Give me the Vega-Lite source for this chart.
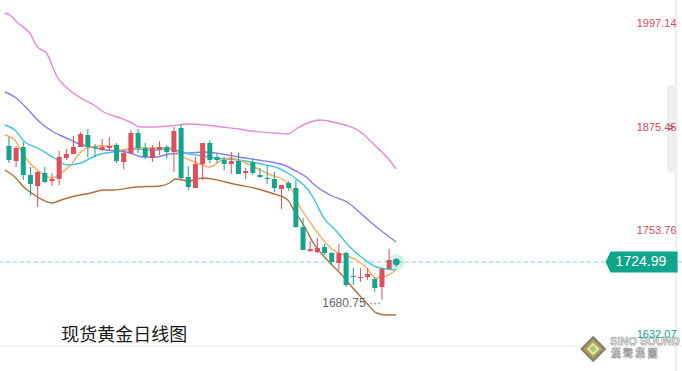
{
  "$schema": "https://vega.github.io/schema/vega-lite/v6.json",
  "width": 682,
  "height": 371,
  "autosize": "none",
  "padding": 0,
  "background": "#ffffff",
  "config": {"view": {"stroke": null}},
  "resolve": {"axis": {"x": "independent", "y": "independent"}},
  "datasets": {
    "candles": [
      {"i":0,"open":1861.33,"high":1871.92,"low":1841.34,"close":1844.87},
      {"i":1,"open":1843.70,"high":1861.33,"low":1836.64,"close":1858.98},
      {"i":2,"open":1860.16,"high":1866.04,"low":1821.36,"close":1827.23},
      {"i":3,"open":1827.23,"high":1836.64,"low":1802.54,"close":1816.65},
      {"i":4,"open":1814.30,"high":1831.94,"low":1789.61,"close":1830.76},
      {"i":5,"open":1829.59,"high":1836.64,"low":1817.83,"close":1819.00},
      {"i":6,"open":1820.18,"high":1829.59,"low":1814.30,"close":1822.53},
      {"i":7,"open":1822.53,"high":1855.45,"low":1815.48,"close":1848.40},
      {"i":8,"open":1847.22,"high":1857.81,"low":1844.87,"close":1851.93},
      {"i":9,"open":1851.93,"high":1873.09,"low":1851.93,"close":1860.16},
      {"i":10,"open":1860.16,"high":1877.79,"low":1860.16,"close":1875.44},
      {"i":11,"open":1874.27,"high":1881.32,"low":1848.40,"close":1860.16},
      {"i":12,"open":1860.16,"high":1863.68,"low":1848.40,"close":1858.98},
      {"i":13,"open":1856.63,"high":1869.56,"low":1855.45,"close":1860.16},
      {"i":14,"open":1858.98,"high":1871.92,"low":1855.45,"close":1861.33},
      {"i":15,"open":1862.51,"high":1864.86,"low":1841.34,"close":1843.70},
      {"i":16,"open":1842.52,"high":1856.63,"low":1834.29,"close":1853.10},
      {"i":17,"open":1853.10,"high":1880.15,"low":1851.93,"close":1876.62},
      {"i":18,"open":1876.62,"high":1881.32,"low":1853.10,"close":1858.98},
      {"i":19,"open":1858.98,"high":1864.86,"low":1846.05,"close":1848.40},
      {"i":20,"open":1847.22,"high":1862.51,"low":1842.52,"close":1858.98},
      {"i":21,"open":1856.63,"high":1867.21,"low":1850.75,"close":1860.16},
      {"i":22,"open":1860.16,"high":1862.51,"low":1847.22,"close":1854.28},
      {"i":23,"open":1854.28,"high":1883.67,"low":1830.76,"close":1878.97},
      {"i":24,"open":1882.50,"high":1887.20,"low":1822.53,"close":1823.71},
      {"i":25,"open":1824.88,"high":1837.82,"low":1809.60,"close":1813.13},
      {"i":26,"open":1811.95,"high":1848.40,"low":1811.95,"close":1840.17},
      {"i":27,"open":1840.17,"high":1864.86,"low":1821.36,"close":1864.86},
      {"i":28,"open":1864.86,"high":1868.39,"low":1841.34,"close":1844.87},
      {"i":29,"open":1848.40,"high":1853.10,"low":1841.34,"close":1844.87},
      {"i":30,"open":1844.87,"high":1848.40,"low":1833.11,"close":1840.17},
      {"i":31,"open":1840.17,"high":1854.28,"low":1828.41,"close":1843.70},
      {"i":32,"open":1843.70,"high":1853.10,"low":1828.41,"close":1828.41},
      {"i":33,"open":1829.59,"high":1835.47,"low":1822.53,"close":1831.94},
      {"i":34,"open":1842.52,"high":1847.22,"low":1827.23,"close":1829.59},
      {"i":35,"open":1827.23,"high":1835.47,"low":1823.71,"close":1824.88},
      {"i":36,"open":1823.71,"high":1838.99,"low":1816.65,"close":1822.53},
      {"i":37,"open":1822.53,"high":1830.76,"low":1807.25,"close":1811.95},
      {"i":38,"open":1810.77,"high":1815.48,"low":1787.26,"close":1815.48},
      {"i":39,"open":1817.83,"high":1820.18,"low":1808.42,"close":1811.95},
      {"i":40,"open":1811.95,"high":1821.36,"low":1764.92,"close":1766.09},
      {"i":41,"open":1766.09,"high":1776.68,"low":1739.05,"close":1739.05},
      {"i":42,"open":1737.87,"high":1749.63,"low":1736.70,"close":1740.23},
      {"i":43,"open":1736.70,"high":1753.16,"low":1735.52,"close":1741.40},
      {"i":44,"open":1742.58,"high":1746.10,"low":1733.17,"close":1735.52},
      {"i":45,"open":1735.52,"high":1736.70,"low":1721.41,"close":1724.94},
      {"i":46,"open":1723.76,"high":1746.10,"low":1715.53,"close":1735.52},
      {"i":47,"open":1735.52,"high":1736.70,"low":1695.55,"close":1697.90},
      {"i":48,"open":1708.48,"high":1717.89,"low":1697.90,"close":1707.30},
      {"i":49,"open":1706.13,"high":1717.89,"low":1701.42,"close":1707.30},
      {"i":50,"open":1707.30,"high":1717.89,"low":1703.78,"close":1710.83},
      {"i":51,"open":1704.95,"high":1707.30,"low":1689.67,"close":1694.37},
      {"i":52,"open":1695.55,"high":1717.89,"low":1680.75,"close":1716.71},
      {"i":53,"open":1716.71,"high":1740.23,"low":1716.71,"close":1727.29},
      {"i":54,"open":1726.10,"high":1727.30,"low":1719.10,"close":1722.00}
    ],
    "lines": [
      {"s":"up","i":-0.55,"p":2017.71},{"s":"up","i":0.14,"p":2015.36},{"s":"up","i":1.24,"p":2005.96},{"s":"up","i":2.88,"p":1994.20},{"s":"up","i":3.98,"p":1977.74},{"s":"up","i":5.22,"p":1970.68},{"s":"up","i":6.73,"p":1942.46},{"s":"up","i":8.10,"p":1929.53},{"s":"up","i":10.03,"p":1917.77},{"s":"up","i":11.81,"p":1909.54},{"s":"up","i":13.19,"p":1901.31},{"s":"up","i":15.52,"p":1894.26},{"s":"up","i":16.90,"p":1889.55},{"s":"up","i":18.27,"p":1883.67},{"s":"up","i":20.05,"p":1883.67},{"s":"up","i":22.39,"p":1884.85},{"s":"up","i":25.14,"p":1887.20},{"s":"up","i":27.34,"p":1886.03},{"s":"up","i":29.67,"p":1883.67},{"s":"up","i":32.01,"p":1881.32},{"s":"up","i":33.79,"p":1878.97},{"s":"up","i":36.95,"p":1876.62},{"s":"up","i":38.87,"p":1875.44},{"s":"up","i":40.25,"p":1882.50},{"s":"up","i":41.62,"p":1888.38},{"s":"up","i":43.41,"p":1891.90},{"s":"up","i":45.19,"p":1889.55},{"s":"up","i":46.84,"p":1886.03},{"s":"up","i":48.63,"p":1880.15},{"s":"up","i":50.96,"p":1862.51},{"s":"up","i":53.02,"p":1844.87},{"s":"up","i":53.98,"p":1834.29},
      {"s":"mid","i":-0.55,"p":1924.83},{"s":"mid","i":0.82,"p":1918.95},{"s":"mid","i":2.47,"p":1906.01},{"s":"mid","i":3.98,"p":1891.90},{"s":"mid","i":6.32,"p":1877.20},{"s":"mid","i":7.69,"p":1871.92},{"s":"mid","i":9.48,"p":1864.86},{"s":"mid","i":11.40,"p":1860.16},{"s":"mid","i":13.19,"p":1857.20},{"s":"mid","i":16.90,"p":1853.10},{"s":"mid","i":18.68,"p":1848.40},{"s":"mid","i":20.47,"p":1848.40},{"s":"mid","i":22.39,"p":1851.93},{"s":"mid","i":25.14,"p":1853.10},{"s":"mid","i":27.34,"p":1854.28},{"s":"mid","i":29.67,"p":1851.93},{"s":"mid","i":32.01,"p":1848.40},{"s":"mid","i":34.75,"p":1844.87},{"s":"mid","i":36.54,"p":1842.52},{"s":"mid","i":38.32,"p":1838.99},{"s":"mid","i":40.25,"p":1830.76},{"s":"mid","i":41.62,"p":1823.71},{"s":"mid","i":42.45,"p":1816.65},{"s":"mid","i":44.78,"p":1803.72},{"s":"mid","i":47.12,"p":1795.49},{"s":"mid","i":49.31,"p":1780.20},{"s":"mid","i":51.24,"p":1766.09},{"s":"mid","i":53.98,"p":1748.46},
      {"s":"cyan","i":-0.55,"p":1886.03},{"s":"cyan","i":0.82,"p":1880.15},{"s":"cyan","i":2.2,"p":1866.04},{"s":"cyan","i":3.98,"p":1858.98},{"s":"cyan","i":6.32,"p":1847.22},{"s":"cyan","i":8.10,"p":1838.99},{"s":"cyan","i":10.03,"p":1841.34},{"s":"cyan","i":11.40,"p":1847.22},{"s":"cyan","i":12.77,"p":1851.93},{"s":"cyan","i":14.56,"p":1854.28},{"s":"cyan","i":17.72,"p":1857.81},{"s":"cyan","i":20.05,"p":1856.63},{"s":"cyan","i":22.39,"p":1857.81},{"s":"cyan","i":24.59,"p":1853.10},{"s":"cyan","i":26.92,"p":1849.58},{"s":"cyan","i":28.71,"p":1847.22},{"s":"cyan","i":32.01,"p":1844.87},{"s":"cyan","i":35.16,"p":1840.17},{"s":"cyan","i":37.5,"p":1835.47},{"s":"cyan","i":38.87,"p":1829.59},{"s":"cyan","i":40.25,"p":1821.36},{"s":"cyan","i":41.62,"p":1810.80},{"s":"cyan","i":42.45,"p":1800.19},{"s":"cyan","i":43.82,"p":1777.85},{"s":"cyan","i":45.74,"p":1760.21},{"s":"cyan","i":47.53,"p":1742.58},{"s":"cyan","i":49.31,"p":1729.64},{"s":"cyan","i":51.24,"p":1719.06},{"s":"cyan","i":53.98,"p":1715.53},
      {"s":"orange","i":-0.55,"p":1874.27},{"s":"orange","i":0.82,"p":1868.39},{"s":"orange","i":1.79,"p":1854.28},{"s":"orange","i":2.88,"p":1841.34},{"s":"orange","i":3.98,"p":1833.11},{"s":"orange","i":5.91,"p":1823.71},{"s":"orange","i":7.28,"p":1829.59},{"s":"orange","i":8.65,"p":1838.99},{"s":"orange","i":10.03,"p":1854.28},{"s":"orange","i":11.40,"p":1860.16},{"s":"orange","i":12.77,"p":1861.33},{"s":"orange","i":14.56,"p":1861.33},{"s":"orange","i":15.52,"p":1856.63},{"s":"orange","i":17.72,"p":1858.98},{"s":"orange","i":20.05,"p":1858.98},{"s":"orange","i":22.39,"p":1858.98},{"s":"orange","i":24.59,"p":1847.22},{"s":"orange","i":25.96,"p":1842.52},{"s":"orange","i":28.02,"p":1836.64},{"s":"orange","i":29.67,"p":1844.87},{"s":"orange","i":31.04,"p":1847.22},{"s":"orange","i":32.01,"p":1844.87},{"s":"orange","i":34.2,"p":1836.64},{"s":"orange","i":36.54,"p":1827.23},{"s":"orange","i":38.32,"p":1821.36},{"s":"orange","i":38.87,"p":1817.83},{"s":"orange","i":40.66,"p":1788.43},{"s":"orange","i":42.45,"p":1766.09},{"s":"orange","i":43.82,"p":1750.81},{"s":"orange","i":45.19,"p":1739.05},{"s":"orange","i":47.12,"p":1732.00},{"s":"orange","i":48.49,"p":1727.29},{"s":"orange","i":49.86,"p":1717.89},{"s":"orange","i":51.24,"p":1706.13},{"s":"orange","i":52.61,"p":1708.48},{"s":"orange","i":53.98,"p":1715.53},
      {"s":"dn","i":-0.55,"p":1833.11},{"s":"dn","i":0.82,"p":1824.88},{"s":"dn","i":2.2,"p":1811.95},{"s":"dn","i":3.57,"p":1803.72},{"s":"dn","i":5.36,"p":1795.49},{"s":"dn","i":6.04,"p":1794.31},{"s":"dn","i":7.28,"p":1797.84},{"s":"dn","i":8.65,"p":1801.37},{"s":"dn","i":11.40,"p":1806.07},{"s":"dn","i":13.19,"p":1809.60},{"s":"dn","i":14.56,"p":1809.60},{"s":"dn","i":17.72,"p":1813.13},{"s":"dn","i":21.02,"p":1814.30},{"s":"dn","i":22.39,"p":1817.83},{"s":"dn","i":23.21,"p":1822.53},{"s":"dn","i":25.14,"p":1820.18},{"s":"dn","i":26.92,"p":1823.71},{"s":"dn","i":32.01,"p":1815.48},{"s":"dn","i":34.75,"p":1810.77},{"s":"dn","i":36.54,"p":1806.07},{"s":"dn","i":38.87,"p":1797.84},{"s":"dn","i":39.7,"p":1786.08},{"s":"dn","i":41.07,"p":1768.44},{"s":"dn","i":42.45,"p":1747.28},{"s":"dn","i":44.37,"p":1727.29},{"s":"dn","i":46.15,"p":1712.00},{"s":"dn","i":47.94,"p":1694.37},{"s":"dn","i":49.86,"p":1676.73},{"s":"dn","i":51.24,"p":1664.98},{"s":"dn","i":52.61,"p":1662.63},{"s":"dn","i":53.98,"p":1662.63}
    ],
    "last": [{"i":54,"price":1724.99,"label":"1724.99"}],
    "low": [{"i":52,"price":1680.75,"label":"1680.75 ···"}],
    "title": [{"label":"现货黄金日线图","arrow":">"}],
    "logo": [{"a":"SINO SOUND","b":"漢 聲 集 團"}]
  },
  "layer": [
    {
      "data": {"name": "title"},
      "mark": {"type": "rule", "color": "#e8e8e8", "strokeWidth": 1},
      "encoding": {
        "y": {"datum": 1626.2, "type": "quantitative", "scale": {"domain": [1596.78, 2033.0], "nice": false, "zero": false}, "axis": null}
      }
    },
    {
      "data": {"name": "last"},
      "mark": {"type": "rule", "color": "#7fd6c4", "strokeWidth": 1, "strokeDash": [4, 3]},
      "encoding": {
        "y": {"field": "price", "type": "quantitative", "scale": {"domain": [1596.78, 2033.0], "nice": false, "zero": false}, "axis": null}
      }
    },
    {
      "data": {"name": "lines"},
      "mark": {"type": "line", "strokeWidth": 1.4, "interpolate": "monotone"},
      "encoding": {
        "x": {"field": "i", "type": "quantitative", "scale": {"domain": [-0.55, 93.13], "nice": false, "zero": false}, "axis": null},
        "y": {"field": "p", "type": "quantitative", "scale": {"domain": [1596.78, 2033.0], "nice": false, "zero": false},
          "axis": {"orient": "right", "values": [1997.14, 1875.45, 1753.76, 1632.07], "format": ".2f", "domain": false, "ticks": false, "tickSize": 0, "grid": false, "title": null,
            "labelPadding": -6, "labelAlign": "right", "labelBaseline": "middle", "labelOffset": -6.5, "labelFont": "Liberation Sans", "labelFontSize": 11,
            "labelFlush": false, "labelOverlap": false, "zindex": 1,
            "labelColor": {"condition": {"test": "datum.value < 1700", "value": "#12a58b"}, "value": "#e04a5c"}}},
        "color": {"field": "s", "type": "nominal", "legend": null,
          "scale": {"domain": ["up", "mid", "cyan", "orange", "dn"], "range": ["#e48ad6", "#8a7cf0", "#3cc6e2", "#ffa95e", "#b2703f"]}}
      }
    },
    {
      "data": {"name": "candles"},
      "mark": {"type": "rule", "strokeWidth": 1},
      "encoding": {
        "x": {"field": "i", "type": "quantitative", "scale": {"domain": [-0.55, 93.13], "nice": false, "zero": false}, "axis": null},
        "y": {"field": "low", "type": "quantitative", "scale": {"domain": [1596.78, 2033.0], "nice": false, "zero": false}, "axis": null},
        "y2": {"field": "high"},
        "color": {"condition": {"test": "datum.close >= datum.open", "value": "#e04e5c"}, "value": "#12a58b"}
      }
    },
    {
      "data": {"name": "candles"},
      "mark": {"type": "bar", "size": 5},
      "encoding": {
        "x": {"field": "i", "type": "quantitative", "scale": {"domain": [-0.55, 93.13], "nice": false, "zero": false}, "axis": null},
        "y": {"field": "open", "type": "quantitative", "scale": {"domain": [1596.78, 2033.0], "nice": false, "zero": false}, "axis": null},
        "y2": {"field": "close"},
        "color": {"condition": {"test": "datum.close >= datum.open", "value": "#e04e5c"}, "value": "#12a58b"}
      }
    },
    {
      "data": {"name": "last"},
      "mark": {"type": "point", "filled": true, "size": 260, "opacity": 0.18, "color": "#12a58b"},
      "encoding": {
        "x": {"field": "i", "type": "quantitative", "scale": {"domain": [-0.55, 93.13], "nice": false, "zero": false}, "axis": null},
        "y": {"field": "price", "type": "quantitative", "scale": {"domain": [1596.78, 2033.0], "nice": false, "zero": false}, "axis": null}
      }
    },
    {
      "data": {"name": "last"},
      "mark": {"type": "point", "filled": true, "size": 45, "opacity": 1, "color": "#12a58b"},
      "encoding": {
        "x": {"field": "i", "type": "quantitative", "scale": {"domain": [-0.55, 93.13], "nice": false, "zero": false}, "axis": null},
        "y": {"field": "price", "type": "quantitative", "scale": {"domain": [1596.78, 2033.0], "nice": false, "zero": false}, "axis": null}
      }
    },
    {
      "data": {"name": "low"},
      "mark": {"type": "text", "align": "right", "baseline": "middle", "dx": -1, "dy": 3, "font": "Liberation Sans", "fontSize": 12, "color": "#666666"},
      "encoding": {
        "x": {"field": "i", "type": "quantitative", "scale": {"domain": [-0.55, 93.13], "nice": false, "zero": false}, "axis": null},
        "y": {"field": "price", "type": "quantitative", "scale": {"domain": [1596.78, 2033.0], "nice": false, "zero": false}, "axis": null},
        "text": {"field": "label"}
      }
    },
    {
      "data": {"name": "title"},
      "mark": {"type": "rule", "color": "#efeff4", "strokeWidth": 3},
      "encoding": {
        "x": {"datum": 93.0, "type": "quantitative", "scale": {"domain": [-0.55, 93.13], "nice": false, "zero": false}, "axis": null}
      }
    },
    {
      "data": {"name": "title"},
      "mark": {"type": "rect", "color": "#ececf1", "cornerRadius": 4},
      "encoding": {
        "x": {"datum": 91.76, "type": "quantitative", "scale": {"domain": [-0.55, 93.13], "nice": false, "zero": false}, "axis": null},
        "x2": {"datum": 92.86},
        "y": {"datum": 1933.06, "type": "quantitative", "scale": {"domain": [1596.78, 2033.0], "nice": false, "zero": false}, "axis": null},
        "y2": {"datum": 1830.76}
      }
    },
    {
      "data": {"name": "title"},
      "mark": {"type": "text", "align": "center", "baseline": "middle", "font": "Liberation Sans", "fontSize": 10, "color": "#444444"},
      "encoding": {
        "x": {"datum": 92.3, "type": "quantitative", "scale": {"domain": [-0.55, 93.13], "nice": false, "zero": false}, "axis": null},
        "y": {"datum": 1882.5, "type": "quantitative", "scale": {"domain": [1596.78, 2033.0], "nice": false, "zero": false}, "axis": null},
        "text": {"field": "arrow"}
      }
    },
    {
      "data": {"name": "last"},
      "mark": {"type": "point", "filled": true, "size": 5184, "opacity": 1, "color": "#0fa58a", "strokeWidth": 0,
        "shape": "M-1,0L-0.86,-0.29L1,-0.29L1,0.29L-0.86,0.29Z"},
      "encoding": {
        "x": {"datum": 88.19, "type": "quantitative", "scale": {"domain": [-0.55, 93.13], "nice": false, "zero": false}, "axis": null},
        "y": {"field": "price", "type": "quantitative", "scale": {"domain": [1596.78, 2033.0], "nice": false, "zero": false}, "axis": null}
      }
    },
    {
      "data": {"name": "last"},
      "mark": {"type": "text", "align": "center", "baseline": "middle", "font": "Liberation Sans", "fontSize": 14, "color": "#ffffff"},
      "encoding": {
        "x": {"datum": 88.1, "type": "quantitative", "scale": {"domain": [-0.55, 93.13], "nice": false, "zero": false}, "axis": null},
        "y": {"field": "price", "type": "quantitative", "scale": {"domain": [1596.78, 2033.0], "nice": false, "zero": false}, "axis": null},
        "text": {"field": "label"}
      }
    },
    {
      "data": {"name": "title"},
      "mark": {"type": "text", "align": "left", "baseline": "middle", "font": "Noto Sans CJK SC", "fontSize": 18, "color": "#1a1a1a"},
      "encoding": {
        "x": {"datum": 7.28, "type": "quantitative", "scale": {"domain": [-0.55, 93.13], "nice": false, "zero": false}, "axis": null},
        "y": {"datum": 1637.9, "type": "quantitative", "scale": {"domain": [1596.78, 2033.0], "nice": false, "zero": false}, "axis": null},
        "text": {"field": "label"}
      }
    },
    {
      "data": {"name": "logo"},
      "mark": {"type": "point", "shape": "diamond", "filled": true, "size": 700, "color": "#4f4a36"},
      "encoding": {
        "x": {"datum": 81.45, "type": "quantitative", "scale": {"domain": [-0.55, 93.13], "nice": false, "zero": false}, "axis": null},
        "y": {"datum": 1622.65, "type": "quantitative", "scale": {"domain": [1596.78, 2033.0], "nice": false, "zero": false}, "axis": null}
      }
    },
    {
      "data": {"name": "logo"},
      "mark": {"type": "point", "shape": "diamond", "filled": true, "size": 380, "color": "#c9b63e"},
      "encoding": {
        "x": {"datum": 81.45, "type": "quantitative", "scale": {"domain": [-0.55, 93.13], "nice": false, "zero": false}, "axis": null},
        "y": {"datum": 1622.65, "type": "quantitative", "scale": {"domain": [1596.78, 2033.0], "nice": false, "zero": false}, "axis": null}
      }
    },
    {
      "data": {"name": "logo"},
      "mark": {"type": "point", "shape": "diamond", "filled": true, "size": 160, "color": "#ffffff"},
      "encoding": {
        "x": {"datum": 81.45, "type": "quantitative", "scale": {"domain": [-0.55, 93.13], "nice": false, "zero": false}, "axis": null},
        "y": {"datum": 1622.65, "type": "quantitative", "scale": {"domain": [1596.78, 2033.0], "nice": false, "zero": false}, "axis": null}
      }
    },
    {
      "data": {"name": "logo"},
      "mark": {"type": "point", "shape": "diamond", "filled": true, "size": 60, "color": "#8cc63f"},
      "encoding": {
        "x": {"datum": 81.45, "type": "quantitative", "scale": {"domain": [-0.55, 93.13], "nice": false, "zero": false}, "axis": null},
        "y": {"datum": 1622.65, "type": "quantitative", "scale": {"domain": [1596.78, 2033.0], "nice": false, "zero": false}, "axis": null}
      }
    },
    {
      "data": {"name": "logo"},
      "mark": {"type": "text", "align": "left", "baseline": "middle", "font": "Liberation Sans", "fontWeight": "bold", "fontSize": 11, "color": "#f2f2f2", "stroke": "#9a9a9a", "strokeWidth": 0.6},
      "encoding": {
        "x": {"datum": 83.8, "type": "quantitative", "scale": {"domain": [-0.55, 93.13], "nice": false, "zero": false}, "axis": null},
        "y": {"datum": 1630.8, "type": "quantitative", "scale": {"domain": [1596.78, 2033.0], "nice": false, "zero": false}, "axis": null},
        "text": {"field": "a"}
      }
    },
    {
      "data": {"name": "logo"},
      "mark": {"type": "text", "align": "left", "baseline": "middle", "font": "Noto Sans CJK TC", "fontWeight": "bold", "fontSize": 10, "color": "#f2f2f2", "stroke": "#9a9a9a", "strokeWidth": 0.6},
      "encoding": {
        "x": {"datum": 83.9, "type": "quantitative", "scale": {"domain": [-0.55, 93.13], "nice": false, "zero": false}, "axis": null},
        "y": {"datum": 1616.6, "type": "quantitative", "scale": {"domain": [1596.78, 2033.0], "nice": false, "zero": false}, "axis": null},
        "text": {"field": "b"}
      }
    }
  ]
}
